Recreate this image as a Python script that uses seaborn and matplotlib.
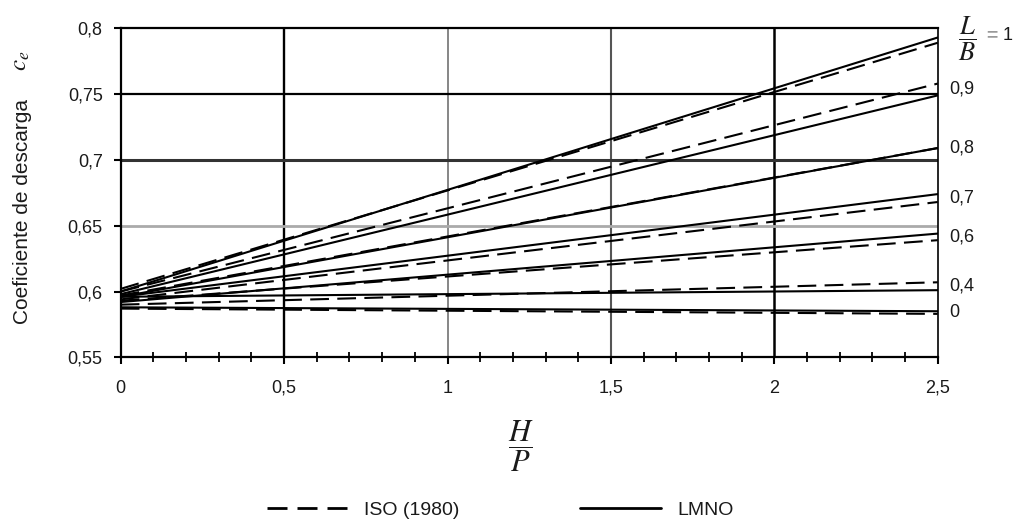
import numpy as np
import pandas as pd
import matplotlib
matplotlib.use("Agg")
import matplotlib.pyplot as plt
import seaborn as sns
from matplotlib.lines import Line2D
from matplotlib.ticker import MultipleLocator

# ---------------- data ----------------
ratios = ['1', '0,9', '0,8', '0,7', '0,6', '0,4', '0']      # L/B
hp_points = [0.0, 2.5]                                      # H/P at line ends
iso_start = [0.602, 0.600, 0.597, 0.594, 0.593, 0.590, 0.587]
iso_end = [0.789, 0.758, 0.709, 0.668, 0.639, 0.607, 0.583]
lmno_start = [0.600, 0.598, 0.596, 0.596, 0.592, 0.596, 0.588]
lmno_end = [0.793, 0.749, 0.709, 0.674, 0.644, 0.601, 0.585]
sources = ['ISO (1980)', 'LMNO']

x_ticks = [0, 0.5, 1, 1.5, 2, 2.5]
x_tick_labels = ['0', '0,5', '1', '1,5', '2', '2,5']
y_ticks = [0.55, 0.6, 0.65, 0.7, 0.75, 0.8]
y_tick_labels = ['0,55', '0,6', '0,65', '0,7', '0,75', '0,8']

rows = []
for src, starts, ends in [(sources[0], iso_start, iso_end),
                          (sources[1], lmno_start, lmno_end)]:
    for r, s, e in zip(ratios, starts, ends):
        for hp, cd in zip(hp_points, [s, e]):
            rows.append({'HP': hp, 'Cd': cd, 'LB': r, 'Fuente': src})
df = pd.DataFrame(rows)

# ---------------- style ----------------
sns.set_style('white')
plt.rcParams['font.family'] = ['Liberation Sans', 'DejaVu Sans']
plt.rcParams['mathtext.fontset'] = 'stix'
TXT = '#1a1a1a'

fig = plt.figure(figsize=(10.16, 5.24), dpi=100)
ax = fig.add_axes([120.7 / 1016, 1 - 357.3 / 524, 817 / 1016, 329 / 524])

sns.lineplot(data=df, x='HP', y='Cd', units='LB', style='Fuente',
             estimator=None, color='black', linewidth=1.5,
             dashes={'ISO (1980)': (9, 4), 'LMNO': ''},
             legend=False, ax=ax, zorder=3)

ax.set_xlim(x_ticks[0], x_ticks[-1])
ax.set_ylim(y_ticks[0], y_ticks[-1])
ax.set_xticks(x_ticks, labels=x_tick_labels)
ax.set_yticks(y_ticks, labels=y_tick_labels)
ax.xaxis.set_minor_locator(MultipleLocator(0.1))

# grid
ax.set_axisbelow(True)
ax.grid(True, which='major')
xstyles = [(None, 0), ('black', 1.7), ('#666666', 1.1), ('#555555', 1.5),
           ('black', 1.8), (None, 0)]
for gl, (c, w) in zip(ax.get_xgridlines(), xstyles):
    if c is None:
        gl.set_visible(False)
    else:
        gl.set_color(c); gl.set_linewidth(w); gl.set_alpha(1)
ystyles = [(None, 0), (None, 0), ('#aaaaaa', 2.0), ('#333333', 2.2),
           ('black', 1.6), (None, 0)]
for gl, (c, w) in zip(ax.get_ygridlines(), ystyles):
    if c is None:
        gl.set_visible(False)
    else:
        gl.set_color(c); gl.set_linewidth(w); gl.set_alpha(1)

for side in ['top', 'left', 'bottom']:
    ax.spines[side].set_color('black')
    ax.spines[side].set_linewidth(1.6)
ax.spines['right'].set_color('black')
ax.spines['right'].set_linewidth(1.2)

ax.tick_params(axis='x', which='both', bottom=True, top=False)
ax.tick_params(axis='y', which='both', left=True, right=False)
ax.tick_params(axis='x', which='major', direction='out', length=5, width=1.5,
               color='black', pad=11, labelsize=13, labelcolor=TXT)
ax.tick_params(axis='x', which='minor', direction='inout', length=7, width=1.3,
               color='black')
ax.tick_params(axis='y', which='major', direction='out', length=5, width=1.5,
               color='black', pad=8, labelsize=13, labelcolor=TXT)

ax.set_xlabel('')
ax.set_ylabel('Coeficiente de descarga', fontsize=15, color=TXT)
ax.yaxis.set_label_coords(-0.108, 0.443)
fig.text(20 / 1016, 1 - 61 / 524, r'$c_e$', fontsize=18, rotation=90,
         ha='center', va='center', color=TXT)

# H/P label
fig.text(521 / 1016, 1 - 446 / 524, r'$\dfrac{H}{P}$', fontsize=22,
         ha='center', va='center', color=TXT)

# right-hand labels at the line ends
for i, r in enumerate(ratios):
    yv = (iso_end[i] + lmno_end[i]) / 2
    if i == 0:
        ax.annotate(r'$\dfrac{L}{B}$', xy=(x_ticks[-1], yv), xytext=(21, 1),
                    textcoords='offset points', ha='center', va='center',
                    fontsize=19, color=TXT, annotation_clip=False)
        ax.annotate('=', xy=(x_ticks[-1], yv), xytext=(39, 3.5),
                    textcoords='offset points', ha='center', va='center',
                    fontsize=14, color='#999999', fontweight='bold',
                    annotation_clip=False)
        ax.annotate(r, xy=(x_ticks[-1], yv), xytext=(50, 3.5),
                    textcoords='offset points', ha='center', va='center',
                    fontsize=13, color=TXT, annotation_clip=False)
    else:
        ax.annotate(r, xy=(x_ticks[-1], yv), xytext=(8, 0),
                    textcoords='offset points', ha='left', va='center',
                    fontsize=13, color=TXT, annotation_clip=False)

# legend
handles = [Line2D([], [], color='black', lw=2.0, dashes=(7.2, 3.6)),
           Line2D([], [], color='black', lw=2.0)]
fig.legend(handles, sources, loc='center left',
           bbox_to_anchor=(267 / 1016, 1 - 510 / 524), ncol=2,
           frameon=False, fontsize=14, handlelength=4.15, handletextpad=0.85,
           columnspacing=6.2, borderpad=0, borderaxespad=0,
           labelcolor=TXT)

fig.savefig('out.png', dpi=100)
